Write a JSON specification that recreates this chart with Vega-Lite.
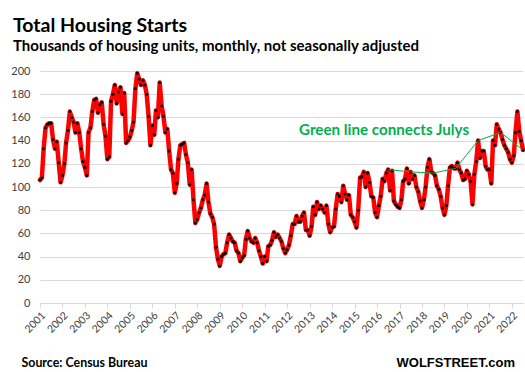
{
  "$schema": "https://vega.github.io/schema/vega-lite/v6.json",
  "autosize": {"type": "none"},
  "width": 483,
  "height": 232,
  "padding": {"left": 40, "top": 71, "right": 2, "bottom": 69},
  "background": "#ffffff",
  "config": {
    "view": {"stroke": null},
    "font": "Lato",
    "axisX": {
      "labelAngle": -45, "labelAlign": "right", "labelBaseline": "top",
      "labelFont": "Lato", "labelFontSize": 10.5, "labelColor": "#404040",
      "labelPadding": 2, "labelOverlap": false, "labelFlush": false,
      "domainColor": "#d9d9d9", "tickColor": "#d9d9d9", "tickSize": 5,
      "grid": false
    },
    "axisY": {
      "tickCount": 20, "labelOverlap": false,
      "domain": false, "ticks": false, "labelPadding": 10,
      "labelFont": "Lato", "labelFontSize": 11, "labelColor": "#404040",
      "gridColor": "#d9d9d9", "gridWidth": 1
    }
  },
  "title": {
    "text": "Total Housing Starts",
    "subtitle": "Thousands of housing units, monthly, not seasonally adjusted",
    "anchor": "start",
    "frame": "group",
    "dx": -27,
    "offset": 10,
    "font": "Lato",
    "fontSize": 19.5,
    "fontWeight": "bold",
    "color": "#000000",
    "subtitleFont": "Lato",
    "subtitleFontSize": 15,
    "subtitleFontWeight": "bold",
    "subtitleColor": "#000000",
    "subtitlePadding": 3
  },
  "datasets": {
    "starts": [
      {"d":"2001-01-01","v":106},{"d":"2001-02-01","v":108},{"d":"2001-03-01","v":133},{"d":"2001-04-01","v":151},{"d":"2001-05-01","v":154},{"d":"2001-06-01","v":155},{"d":"2001-07-01","v":155},{"d":"2001-08-01","v":141},{"d":"2001-09-01","v":133},{"d":"2001-10-01","v":139},{"d":"2001-11-01","v":121},{"d":"2001-12-01","v":104},
      {"d":"2002-01-01","v":110},{"d":"2002-02-01","v":120},{"d":"2002-03-01","v":138},{"d":"2002-04-01","v":149},{"d":"2002-05-01","v":165},{"d":"2002-06-01","v":160},{"d":"2002-07-01","v":156},{"d":"2002-08-01","v":147},{"d":"2002-09-01","v":155},{"d":"2002-10-01","v":147},{"d":"2002-11-01","v":133},{"d":"2002-12-01","v":122},
      {"d":"2003-01-01","v":117},{"d":"2003-02-01","v":110},{"d":"2003-03-01","v":147},{"d":"2003-04-01","v":151},{"d":"2003-05-01","v":165},{"d":"2003-06-01","v":175},{"d":"2003-07-01","v":176},{"d":"2003-08-01","v":164},{"d":"2003-09-01","v":171},{"d":"2003-10-01","v":173},{"d":"2003-11-01","v":154},{"d":"2003-12-01","v":144},
      {"d":"2004-01-01","v":124},{"d":"2004-02-01","v":126},{"d":"2004-03-01","v":174},{"d":"2004-04-01","v":180},{"d":"2004-05-01","v":188},{"d":"2004-06-01","v":172},{"d":"2004-07-01","v":182},{"d":"2004-08-01","v":186},{"d":"2004-09-01","v":163},{"d":"2004-10-01","v":181},{"d":"2004-11-01","v":138},{"d":"2004-12-01","v":140},
      {"d":"2005-01-01","v":143},{"d":"2005-02-01","v":149},{"d":"2005-03-01","v":156},{"d":"2005-04-01","v":185},{"d":"2005-05-01","v":198},{"d":"2005-06-01","v":193},{"d":"2005-07-01","v":188},{"d":"2005-08-01","v":192},{"d":"2005-09-01","v":188},{"d":"2005-10-01","v":180},{"d":"2005-11-01","v":161},{"d":"2005-12-01","v":136},
      {"d":"2006-01-01","v":153},{"d":"2006-02-01","v":145},{"d":"2006-03-01","v":166},{"d":"2006-04-01","v":160},{"d":"2006-05-01","v":190},{"d":"2006-06-01","v":170},{"d":"2006-07-01","v":161},{"d":"2006-08-01","v":147},{"d":"2006-09-01","v":150},{"d":"2006-10-01","v":131},{"d":"2006-11-01","v":115},{"d":"2006-12-01","v":112},
      {"d":"2007-01-01","v":95},{"d":"2007-02-01","v":103},{"d":"2007-03-01","v":124},{"d":"2007-04-01","v":136},{"d":"2007-05-01","v":137},{"d":"2007-06-01","v":138},{"d":"2007-07-01","v":128},{"d":"2007-08-01","v":121},{"d":"2007-09-01","v":102},{"d":"2007-10-01","v":115},{"d":"2007-11-01","v":89},{"d":"2007-12-01","v":69},
      {"d":"2008-01-01","v":72},{"d":"2008-02-01","v":78},{"d":"2008-03-01","v":82},{"d":"2008-04-01","v":89},{"d":"2008-05-01","v":93},{"d":"2008-06-01","v":103},{"d":"2008-07-01","v":87},{"d":"2008-08-01","v":77},{"d":"2008-09-01","v":74},{"d":"2008-10-01","v":68},{"d":"2008-11-01","v":48},{"d":"2008-12-01","v":38},
      {"d":"2009-01-01","v":32},{"d":"2009-02-01","v":40},{"d":"2009-03-01","v":42},{"d":"2009-04-01","v":43},{"d":"2009-05-01","v":52},{"d":"2009-06-01","v":59},{"d":"2009-07-01","v":56},{"d":"2009-08-01","v":53},{"d":"2009-09-01","v":52},{"d":"2009-10-01","v":45},{"d":"2009-11-01","v":43},{"d":"2009-12-01","v":36},
      {"d":"2010-01-01","v":39},{"d":"2010-02-01","v":41},{"d":"2010-03-01","v":55},{"d":"2010-04-01","v":62},{"d":"2010-05-01","v":56},{"d":"2010-06-01","v":53},{"d":"2010-07-01","v":52},{"d":"2010-08-01","v":56},{"d":"2010-09-01","v":52},{"d":"2010-10-01","v":45},{"d":"2010-11-01","v":40},{"d":"2010-12-01","v":34},
      {"d":"2011-01-01","v":40},{"d":"2011-02-01","v":36},{"d":"2011-03-01","v":49},{"d":"2011-04-01","v":50},{"d":"2011-05-01","v":54},{"d":"2011-06-01","v":61},{"d":"2011-07-01","v":57},{"d":"2011-08-01","v":59},{"d":"2011-09-01","v":56},{"d":"2011-10-01","v":53},{"d":"2011-11-01","v":47},{"d":"2011-12-01","v":43},
      {"d":"2012-01-01","v":46},{"d":"2012-02-01","v":50},{"d":"2012-03-01","v":58},{"d":"2012-04-01","v":68},{"d":"2012-05-01","v":68},{"d":"2012-06-01","v":75},{"d":"2012-07-01","v":70},{"d":"2012-08-01","v":70},{"d":"2012-09-01","v":75},{"d":"2012-10-01","v":78},{"d":"2012-11-01","v":63},{"d":"2012-12-01","v":63},
      {"d":"2013-01-01","v":58},{"d":"2013-02-01","v":66},{"d":"2013-03-01","v":83},{"d":"2013-04-01","v":76},{"d":"2013-05-01","v":87},{"d":"2013-06-01","v":81},{"d":"2013-07-01","v":84},{"d":"2013-08-01","v":81},{"d":"2013-09-01","v":78},{"d":"2013-10-01","v":84},{"d":"2013-11-01","v":68},{"d":"2013-12-01","v":61},
      {"d":"2014-01-01","v":65},{"d":"2014-02-01","v":66},{"d":"2014-03-01","v":81},{"d":"2014-04-01","v":94},{"d":"2014-05-01","v":92},{"d":"2014-06-01","v":87},{"d":"2014-07-01","v":101},{"d":"2014-08-01","v":94},{"d":"2014-09-01","v":89},{"d":"2014-10-01","v":93},{"d":"2014-11-01","v":76},{"d":"2014-12-01","v":74},
      {"d":"2015-01-01","v":70},{"d":"2015-02-01","v":65},{"d":"2015-03-01","v":80},{"d":"2015-04-01","v":108},{"d":"2015-05-01","v":109},{"d":"2015-06-01","v":113},{"d":"2015-07-01","v":100},{"d":"2015-08-01","v":112},{"d":"2015-09-01","v":104},{"d":"2015-10-01","v":92},{"d":"2015-11-01","v":91},{"d":"2015-12-01","v":78},
      {"d":"2016-01-01","v":74},{"d":"2016-02-01","v":84},{"d":"2016-03-01","v":92},{"d":"2016-04-01","v":107},{"d":"2016-05-01","v":105},{"d":"2016-06-01","v":112},{"d":"2016-07-01","v":115},{"d":"2016-08-01","v":97},{"d":"2016-09-01","v":114},{"d":"2016-10-01","v":88},{"d":"2016-11-01","v":85},{"d":"2016-12-01","v":83},
      {"d":"2017-01-01","v":82},{"d":"2017-02-01","v":89},{"d":"2017-03-01","v":105},{"d":"2017-04-01","v":107},{"d":"2017-05-01","v":116},{"d":"2017-06-01","v":103},{"d":"2017-07-01","v":113},{"d":"2017-08-01","v":107},{"d":"2017-09-01","v":110},{"d":"2017-10-01","v":100},{"d":"2017-11-01","v":96},{"d":"2017-12-01","v":88},
      {"d":"2018-01-01","v":82},{"d":"2018-02-01","v":89},{"d":"2018-03-01","v":100},{"d":"2018-04-01","v":117},{"d":"2018-05-01","v":124},{"d":"2018-06-01","v":113},{"d":"2018-07-01","v":112},{"d":"2018-08-01","v":110},{"d":"2018-09-01","v":101},{"d":"2018-10-01","v":98},{"d":"2018-11-01","v":92},{"d":"2018-12-01","v":82},
      {"d":"2019-01-01","v":76},{"d":"2019-02-01","v":84},{"d":"2019-03-01","v":101},{"d":"2019-04-01","v":117},{"d":"2019-05-01","v":118},{"d":"2019-06-01","v":116},{"d":"2019-07-01","v":116},{"d":"2019-08-01","v":121},{"d":"2019-09-01","v":115},{"d":"2019-10-01","v":112},{"d":"2019-11-01","v":106},{"d":"2019-12-01","v":107},
      {"d":"2020-01-01","v":114},{"d":"2020-02-01","v":111},{"d":"2020-03-01","v":105},{"d":"2020-04-01","v":85},{"d":"2020-05-01","v":111},{"d":"2020-06-01","v":122},{"d":"2020-07-01","v":140},{"d":"2020-08-01","v":125},{"d":"2020-09-01","v":131},{"d":"2020-10-01","v":131},{"d":"2020-11-01","v":118},{"d":"2020-12-01","v":115},
      {"d":"2021-01-01","v":115},{"d":"2021-02-01","v":103},{"d":"2021-03-01","v":140},{"d":"2021-04-01","v":136},{"d":"2021-05-01","v":154},{"d":"2021-06-01","v":150},{"d":"2021-07-01","v":147},{"d":"2021-08-01","v":141},{"d":"2021-09-01","v":136},{"d":"2021-10-01","v":133},{"d":"2021-11-01","v":130},{"d":"2021-12-01","v":124},
      {"d":"2022-01-01","v":121},{"d":"2022-02-01","v":127},{"d":"2022-03-01","v":147},{"d":"2022-04-01","v":165},{"d":"2022-05-01","v":148},{"d":"2022-06-01","v":140},{"d":"2022-07-01","v":132}
    ]
  },
  "layer": [
    {
      "data": {"name": "starts"},
      "mark": {"type": "line", "color": "#ff0000", "strokeWidth": 4.5, "strokeJoin": "round", "strokeCap": "round"},
      "encoding": {
        "x": {
          "field": "d", "type": "temporal",
          "scale": {"type": "utc", "domain": [{"year": 2001, "month": 1, "date": 1, "utc": true}, {"year": 2022, "month": 7, "date": 1, "utc": true}]},
          "axis": {"title": null, "format": "%Y", "tickCount": {"interval": "year", "step": 1}}
        },
        "y": {
          "field": "v", "type": "quantitative",
          "scale": {"domain": [0, 200], "nice": false, "zero": true},
          "axis": {"title": null, "values": [0, 20, 40, 60, 80, 100, 120, 140, 160, 180, 200], "tickCount": 20}
        }
      }
    },
    {
      "data": {"name": "starts"},
      "mark": {"type": "point", "filled": true, "color": "#000000", "size": 9, "opacity": 1},
      "encoding": {
        "x": {"field": "d", "type": "temporal", "axis": {"title": null, "format": "%Y", "tickCount": {"interval": "year", "step": 1}}},
        "y": {"field": "v", "type": "quantitative", "axis": {"title": null, "values": [0, 20, 40, 60, 80, 100, 120, 140, 160, 180, 200], "tickCount": 20}}
      }
    },
    {
      "data": {"name": "starts"},
      "transform": [{"filter": "utcmonth(toDate(datum.d)) == 6 && utcyear(toDate(datum.d)) >= 2016"}],
      "mark": {"type": "line", "color": "#00b050", "strokeWidth": 1},
      "encoding": {
        "x": {"field": "d", "type": "temporal", "axis": {"title": null, "format": "%Y", "tickCount": {"interval": "year", "step": 1}}},
        "y": {"field": "v", "type": "quantitative", "axis": {"title": null, "values": [0, 20, 40, 60, 80, 100, 120, 140, 160, 180, 200], "tickCount": 20}}
      }
    },
    {
      "data": {"values": [{"t": "Green line connects Julys"}]},
      "mark": {"type": "text", "font": "Lato", "fontSize": 15.2, "fontWeight": "bold", "color": "#00b050", "align": "center", "baseline": "alphabetic"},
      "encoding": {
        "x": {"datum": {"year": 2016, "month": 4, "date": 24, "utc": true}, "type": "temporal", "axis": {"title": null, "format": "%Y", "tickCount": {"interval": "year", "step": 1}}},
        "y": {"datum": 145, "type": "quantitative", "axis": {"title": null, "values": [0, 20, 40, 60, 80, 100, 120, 140, 160, 180, 200], "tickCount": 20}},
        "text": {"field": "t"}
      }
    },
    {
      "data": {"values": [{"t": "Source: Census Bureau"}]},
      "mark": {"type": "text", "font": "Lato", "fontSize": 12.4, "fontWeight": "bold", "color": "#000000", "align": "left", "baseline": "alphabetic"},
      "encoding": {
        "x": {"datum": {"year": 2000, "month": 3, "date": 6, "utc": true}, "type": "temporal", "axis": {"title": null, "format": "%Y", "tickCount": {"interval": "year", "step": 1}}},
        "y": {"datum": -55, "type": "quantitative", "axis": {"title": null, "values": [0, 20, 40, 60, 80, 100, 120, 140, 160, 180, 200], "tickCount": 20}},
        "text": {"field": "t"}
      }
    },
    {
      "data": {"values": [{"t": "WOLFSTREET.com"}]},
      "mark": {"type": "text", "font": "Liberation Sans", "fontSize": 13, "fontWeight": "bold", "color": "#000000", "align": "right", "baseline": "alphabetic"},
      "encoding": {
        "x": {"datum": {"year": 2022, "month": 2, "date": 21, "utc": true}, "type": "temporal", "axis": {"title": null, "format": "%Y", "tickCount": {"interval": "year", "step": 1}}},
        "y": {"datum": -55, "type": "quantitative", "axis": {"title": null, "values": [0, 20, 40, 60, 80, 100, 120, 140, 160, 180, 200], "tickCount": 20}},
        "text": {"field": "t"}
      }
    }
  ]
}
